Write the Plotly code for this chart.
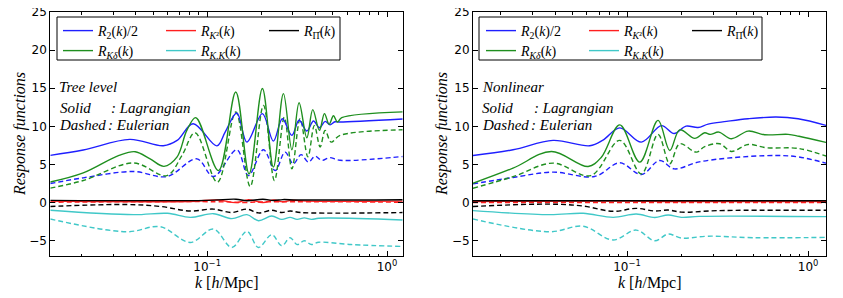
import numpy as np
import plotly.graph_objects as go

# window is 843x298; the page body has an 8px margin, so the figure is 835x290 and offset by 8px
OFF = 8
W, H = 843 - OFF, 298 - OFF

def fx(px):
    return (px - OFF) / W

def fy(py):
    return 1 - (py - OFF) / H

# ---------------- data (log10 k positions and values) ----------------
# Left panel: tree level
tree_r2_L_logk = [-1.872, -1.689, -1.43, -1.244, -1.167, -1.078, -0.946, -0.9, -0.835, -0.779, -0.693, -0.632,
                  -0.582, -0.529, -0.489, -0.446, -0.409, -0.376, -0.344, -0.317, -0.29, -0.261, 0.087]
tree_r2_L = [6.2, 6.9, 8.29, 7.46, 8.16, 10.35, 7.45, 9.25, 11.75, 7.94, 11.67, 8.07,
             11.0, 8.82, 10.8, 9.39, 10.7, 9.82, 10.66, 10.2, 10.6, 10.57, 10.97]

tree_kd_L_logk = [-1.872, -1.689, -1.49, -1.4, -1.317, -1.24, -1.168, -1.113, -1.063, -0.937, -0.841, -0.767,
                  -0.693, -0.632, -0.576, -0.529, -0.489, -0.446, -0.413, -0.376, -0.348, -0.322, -0.298,
                  -0.276, -0.252, 0.087]
tree_kd_L = [2.7, 3.9, 6.2, 6.68, 5.74, 4.76, 5.96, 9.47, 11.14, 4.2, 14.5, 3.77,
             14.96, 4.65, 14.3, 6.93, 13.1, 8.5, 12.2, 9.47, 11.67, 10.26, 11.4,
             10.57, 11.14, 11.9]

tree_kd_E_logk = [-1.872, -1.689, -1.41, -1.224, -1.14, -1.067, -0.943, -0.841, -0.761, -0.687, -0.626, -0.571,
                  -0.529, -0.483, -0.44, -0.404, -0.372, -0.344, -0.311, -0.261, 0.087]
tree_kd_E = [1.9, 2.9, 5.2, 3.55, 6.2, 9.17, 2.67, 11.88, 2.1, 12.76, 2.9, 11.2,
             4.43, 11.0, 6.0, 10.1, 7.3, 9.47, 7.94, 8.82, 9.56]

tree_r2_E_logk = [-1.872, -1.689, -1.41, -1.224, -1.057, -0.965, -0.835, -0.771, -0.687, -0.622, -0.567, -0.521,
                  -0.478, -0.437, -0.4, -0.363, -0.32, -0.261, 0.087]
tree_r2_E = [2.5, 3.25, 4.08, 3.42, 5.74, 3.42, 6.93, 3.55, 6.93, 4.2, 6.62, 5.09,
             6.3, 5.3, 6.1, 5.53, 5.9, 5.55, 6.05]

tree_kk_L_logk = [-1.872, -1.41, -1.22, -1.094, -0.965, -0.863, -0.779, -0.715, -0.641, -0.585, -0.539, -0.5,
                  -0.46, -0.42, -0.38, 0.087]
tree_kk_L = [-1.0, -1.58, -1.4, -1.93, -1.45, -2.1, -1.58, -2.37, -1.75, -2.2, -1.93, -2.2,
             -2.0, -2.2, -2.05, -2.28]

tree_kk_E_logk = [-1.872, -1.446, -1.261, -1.094, -0.965, -0.863, -0.779, -0.715, -0.641, -0.585, -0.539, -0.5,
                  -0.46, -0.42, -0.38, -0.2, 0.087]
tree_kk_E = [-2.15, -3.82, -3.16, -5.22, -3.46, -5.88, -3.77, -5.88, -4.2, -5.66, -4.6, -5.5,
             -5.0, -5.5, -5.2, -5.5, -5.75]

tree_pi_E_logk = [-1.872, -1.446, -1.261, -1.094, -0.965, -0.863, -0.779, -0.715, -0.641, -0.585, -0.539,
                  -0.48, 0.087]
tree_pi_E = [-0.5, -0.25, -0.5, -1.1, -0.85, -1.3, -0.85, -1.35, -1.0, -1.3, -1.1, -1.3, -1.3]

tree_pi_L_logk = [-1.872, -1.0, -0.84, -0.78, -0.69, -0.63, -0.58, -0.5, 0.087]
tree_pi_L = [0.3, 0.3, 0.45, 0.25, 0.45, 0.28, 0.4, 0.35, 0.38]

tree_k2_L_logk = [-1.872, -1.1, -0.94, -0.84, -0.77, -0.69, -0.63, -0.58, -0.53, -0.45, 0.087]
tree_k2_L = [0.2, 0.15, 0.35, 0.0, 0.4, 0.0, 0.35, 0.1, 0.3, 0.2, 0.2]

tree_k2_E_logk = [-1.872, -0.9, -0.8, -0.7, 0.087]
tree_k2_E = [0.05, 0.1, 0.0, 0.1, 0.05]

# Right panel: nonlinear
nl_r2_L_logk = [-1.851, -1.63, -1.409, -1.206, -1.133, -1.04, -0.921, -0.81, -0.74, -0.674, -0.608, -0.552,
                -0.45, -0.331, -0.177, -0.055, 0.099]
nl_r2_L = [6.18, 6.93, 8.16, 7.46, 8.2, 9.8, 7.94, 10.1, 9.07, 10.04, 9.85, 10.3,
           10.65, 11.0, 11.23, 11.0, 10.13]

nl_kd_L_logk = [-1.851, -1.63, -1.418, -1.215, -1.142, -1.04, -0.93, -0.829, -0.764, -0.709, -0.626, -0.571,
                -0.54, -0.493, -0.424, -0.331, -0.24, -0.11, -0.05, 0.099]
nl_kd_L = [2.54, 4.52, 6.71, 4.74, 5.96, 10.2, 5.31, 10.79, 6.84, 9.55, 8.42, 9.17,
           8.95, 9.25, 8.38, 9.38, 8.9, 8.95, 8.7, 7.9]

nl_kd_E_logk = [-1.851, -1.63, -1.409, -1.2, -1.04, -0.921, -0.829, -0.764, -0.709, -0.617, -0.571, -0.488,
                -0.424, -0.331, -0.23, -0.05, 0.099]
nl_kd_E = [1.89, 3.4, 5.18, 3.55, 8.16, 3.77, 8.95, 5.09, 7.72, 6.62, 7.35, 7.72,
           6.71, 7.63, 7.2, 7.1, 6.1]

nl_r2_E_logk = [-1.851, -1.63, -1.409, -1.18, -1.04, -0.921, -0.82, -0.74, -0.608, -0.424, -0.177, -0.055, 0.099]
nl_r2_E = [2.46, 3.3, 4.0, 3.42, 5.22, 3.68, 5.53, 4.43, 5.31, 5.88, 6.18, 6.0, 5.18]

nl_kk_L_logk = [-1.851, -1.427, -1.243, -1.077, -0.949, -0.847, -0.773, -0.7, -0.6, 0.099]
nl_kk_L = [-1.05, -1.58, -1.4, -1.93, -1.5, -1.95, -1.62, -1.93, -1.8, -1.84]

nl_kk_E_logk = [-1.851, -1.427, -1.243, -1.077, -0.949, -0.847, -0.773, -0.7, -0.55, -0.3, 0.099]
nl_kk_E = [-2.15, -3.82, -3.1, -4.9, -3.6, -5.0, -4.12, -4.65, -4.4, -4.6, -4.56]

nl_pi_E_logk = [-1.851, -1.427, -1.243, -1.077, -0.949, -0.847, -0.773, -0.7, -0.5, 0.099]
nl_pi_E = [-0.5, -0.2, -0.45, -1.14, -0.75, -1.1, -0.97, -1.25, -1.05, -1.0]

nl_pi_L_logk = [-1.851, -1.0, 0.099]
nl_pi_L = [0.25, 0.25, 0.25]

nl_k2_L_logk = [-1.851, -1.0, -0.8, 0.099]
nl_k2_L = [0.15, 0.2, 0.15, 0.15]

nl_k2_E_logk = [-1.851, 0.099]
nl_k2_E = [0.0, 0.0]

# labels
names = {
    "r2": "<i>R</i><sub>2</sub>(<i>k</i>)/2",
    "k2": "<i>R</i><sub><i>K</i>\u00b2</sub>(<i>k</i>)",
    "pi": "<i>R</i><sub>\u03a0\u0302</sub>(<i>k</i>)",
    "kd": "<i>R</i><sub><i>K\u03b4</i></sub>(<i>k</i>)",
    "kk": "<i>R</i><sub><i>K</i>.<i>K</i></sub>(<i>k</i>)",
}
colors = {"r2": "#1f1fff", "k2": "#ff1f1f", "pi": "#000000", "kd": "#1f8f1f", "kk": "#40c8c8"}
y_ticks = [-5, 0, 5, 10, 15, 20, 25]
x_tickvals = [0.1, 1.0]
x_ticktext = ["10<sup>\u22121</sup>", "10<sup>0</sup>"]
x_minor = [0.02, 0.03, 0.04, 0.05, 0.06, 0.07, 0.08, 0.09, 0.2, 0.3, 0.4, 0.5, 0.6, 0.7, 0.8, 0.9]

panels = [
    dict(xa="x", ya="y", legs=("legend", "legend2"),
         L={"r2": (tree_r2_L_logk, tree_r2_L), "k2": (tree_k2_L_logk, tree_k2_L), "pi": (tree_pi_L_logk, tree_pi_L),
            "kd": (tree_kd_L_logk, tree_kd_L), "kk": (tree_kk_L_logk, tree_kk_L)},
         E={"r2": (tree_r2_E_logk, tree_r2_E), "k2": (tree_k2_E_logk, tree_k2_E), "pi": (tree_pi_E_logk, tree_pi_E),
            "kd": (tree_kd_E_logk, tree_kd_E), "kk": (tree_kk_E_logk, tree_kk_E)}),
    dict(xa="x2", ya="y2", legs=("legend3", "legend4"),
         L={"r2": (nl_r2_L_logk, nl_r2_L), "k2": (nl_k2_L_logk, nl_k2_L), "pi": (nl_pi_L_logk, nl_pi_L),
            "kd": (nl_kd_L_logk, nl_kd_L), "kk": (nl_kk_L_logk, nl_kk_L)},
         E={"r2": (nl_r2_E_logk, nl_r2_E), "k2": (nl_k2_E_logk, nl_k2_E), "pi": (nl_pi_E_logk, nl_pi_E),
            "kd": (nl_kd_E_logk, nl_kd_E), "kk": (nl_kk_E_logk, nl_kk_E)}),
]

fig = go.Figure()
order = ["r2", "k2", "pi", "kd", "kk"]
for p in panels:
    for key in order:
        lk, v = p["E"][key]
        fig.add_trace(go.Scatter(x=10 ** np.array(lk), y=v, mode="lines", xaxis=p["xa"], yaxis=p["ya"],
                                 line=dict(color=colors[key], width=1.4, dash="5px,3px", shape="spline", smoothing=1.0),
                                 showlegend=False, hoverinfo="skip"))
    for key in order:
        lk, v = p["L"][key]
        leg = p["legs"][0] if key in ("r2", "k2", "pi") else p["legs"][1]
        fig.add_trace(go.Scatter(x=10 ** np.array(lk), y=v, mode="lines", xaxis=p["xa"], yaxis=p["ya"],
                                 name=names[key], legend=leg,
                                 line=dict(color=colors[key], width=1.4, shape="spline", smoothing=1.0),
                                 hoverinfo="skip"))

tickfont = dict(family="DejaVu Sans", size=12, color="black")
serif = "Liberation Serif"

def xaxis_cfg(px0, px1, rng, anchor):
    return dict(type="log", domain=[fx(px0), fx(px1)], range=rng, anchor=anchor, tickmode="array",
                tickvals=x_tickvals, ticktext=x_ticktext, ticks="inside", ticklen=5, tickwidth=1,
                tickcolor="black", showline=True, linecolor="black", linewidth=1, mirror="ticks",
                showgrid=False, zeroline=False, tickfont=tickfont, ticklabeloverflow="allow",
                automargin=False,
                minor=dict(tickmode="array", tickvals=x_minor, ticks="inside", ticklen=2.5, tickwidth=1,
                           tickcolor="black", showgrid=False))

def yaxis_cfg(anchor):
    return dict(domain=[fy(256), fy(12)], range=[-7, 25], anchor=anchor, tickmode="array",
                tickvals=y_ticks, ticks="inside", ticklen=5, tickwidth=1, tickcolor="black",
                showline=True, linecolor="black", linewidth=1, mirror="ticks", showgrid=False, zeroline=False,
                tickfont=tickfont, ticklabeloverflow="allow", automargin=False)

def legend_cfg(xpx, ypx):
    return dict(orientation="h", x=fx(xpx), xanchor="left", y=fy(ypx), yanchor="top",
                bgcolor="rgba(0,0,0,0)", borderwidth=0, entrywidth=58, entrywidthmode="pixels",
                itemwidth=30, font=dict(family=serif, size=14, color="black"), tracegroupgap=0,
                itemclick=False, itemdoubleclick=False)

annotations = []
def ann(text, xpx, ypx, size=15, xanchor="left", angle=0):
    annotations.append(dict(text=text, x=fx(xpx), y=fy(ypx), xref="paper", yref="paper",
                            xanchor=xanchor, yanchor="middle", showarrow=False, textangle=angle,
                            font=dict(family=serif, size=size, color="black")))

for x0, title in [(50.3, "Tree level"), (473.0, "Nonlinear")]:
    ann("<i>" + title + "</i>", x0 + 7, 87)
    ann("<i>Solid</i>", x0 + 7.5, 108)
    ann("<i>: Lagrangian</i>", x0 + 58.5, 108)
    ann("<i>Dashed</i>", x0 + 7, 125)
    ann("<i>: Eulerian</i>", x0 + 55.5, 125)

ann("<i>Response functions</i>", 20, 134, size=16, xanchor="center", angle=-90)
ann("<i>Response functions</i>", 442, 134, size=16, xanchor="center", angle=-90)
ann("<i>k</i> [<i>h</i>/Mpc]", 227, 283, size=16, xanchor="center")
ann("<i>k</i> [<i>h</i>/Mpc]", 650, 283, size=16, xanchor="center")

shapes = []
for bx0, bx1 in [(57, 340), (479, 762)]:
    shapes.append(dict(type="rect", xref="paper", yref="paper", x0=fx(bx0), x1=fx(bx1),
                       y0=fy(60), y1=fy(17), line=dict(color="black", width=1),
                       fillcolor="rgba(0,0,0,0)", layer="above"))

fig.update_layout(
    width=W, height=H, margin=dict(l=0, r=0, t=0, b=0, autoexpand=False),
    paper_bgcolor="white", plot_bgcolor="white",
    xaxis=xaxis_cfg(50.3, 402.7, [-1.872, 0.087], "y"),
    yaxis=yaxis_cfg("x"),
    xaxis2=xaxis_cfg(473, 826, [-1.851, 0.099], "y2"),
    yaxis2=yaxis_cfg("x2"),
    legend=legend_cfg(58, 15),
    legend2=legend_cfg(58, 35),
    legend3=legend_cfg(481, 15),
    legend4=legend_cfg(481, 35),
    annotations=annotations, shapes=shapes, showlegend=True,
)

fig.write_html("out.html")
